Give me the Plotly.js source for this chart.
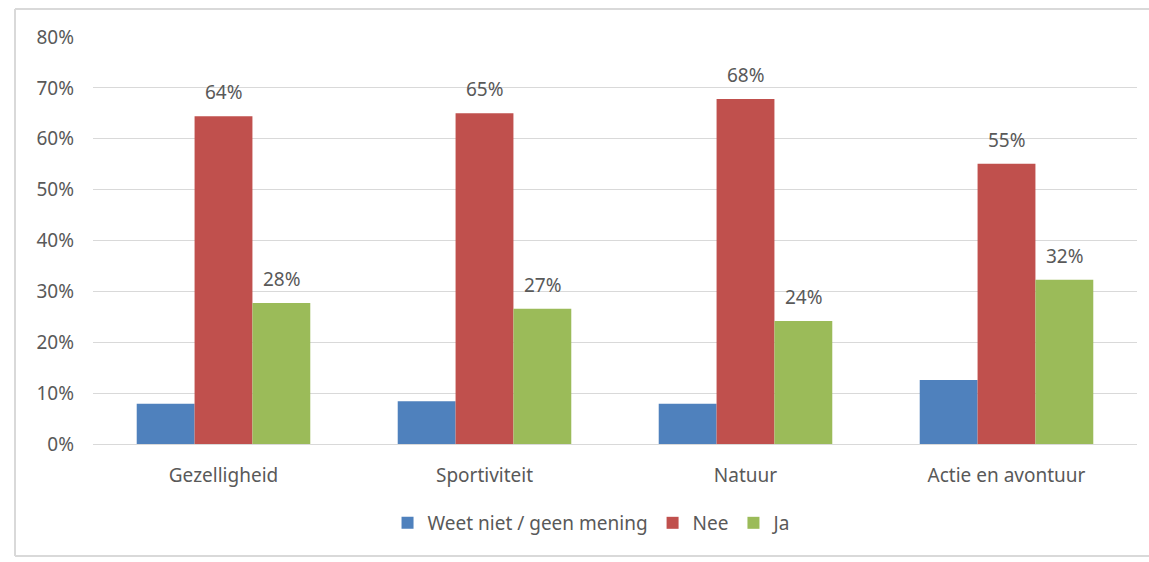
<!DOCTYPE html>
<html>
<head>
<meta charset="utf-8">
<script src="https://cdn.plot.ly/plotly-3.0.1.min.js"></script>
<style>html,body{margin:0;padding:0;background:#fff;overflow:hidden;}#chart{width:1149px;height:562px;}</style>
</head>
<body>
<div id="chart"></div>
<script>
const categories = ["Gezelligheid", "Sportiviteit", "Natuur", "Actie en avontuur"];
const seriesNames = ["Weet niet / geen mening", "Nee", "Ja"];
const weetNiet = [0.079, 0.084, 0.079, 0.126];
const nee = [0.644, 0.650, 0.678, 0.551];
const ja = [0.277, 0.266, 0.242, 0.323];
const yTickVals = [0, 0.1, 0.2, 0.3, 0.4, 0.5, 0.6, 0.7, 0.8];
const yTickText = ["0%", "10%", "20%", "30%", "40%", "50%", "60%", "70%", "80%"];

const colors = ["#4F81BD", "#C0504D", "#9BBB59"];
const FONT = "Noto Sans, sans-serif";
const GREY = "#595959";

const traces = [weetNiet, nee, ja].map((vals, i) => ({
  type: "bar",
  name: seriesNames[i],
  x: categories,
  y: vals,
  marker: {color: colors[i], line: {width: 0}},
  hoverinfo: "none"
}));

const annotations = [];
const labelled = [[nee, 0], [ja, 58]];
labelled.forEach(([vals, shift]) => {
  vals.forEach((v, j) => {
    annotations.push({
      x: categories[j], y: v, xref: "x", yref: "y",
      text: Math.round(v * 100) + "%",
      showarrow: false, xshift: shift, yshift: 24,
      font: {family: FONT, size: 19, color: GREY}
    });
  });
});

const borderLine = {color: "#d9d9d9", width: 2};
const bx0 = -0.0747, bx1 = 1.02, by0 = -0.275, by1 = 1.0688;

const layout = {
  width: 1149, height: 562,
  margin: {l: 93, r: 12, t: 37, b: 118},
  paper_bgcolor: "#ffffff", plot_bgcolor: "#ffffff",
  barmode: "group",
  bargap: 0.335, bargroupgap: 0,
  showlegend: true,
  legend: {
    orientation: "h", x: 0.478, xanchor: "center", y: -0.194, yanchor: "middle",
    font: {family: FONT, size: 19, color: GREY},
    itemwidth: 30, traceorder: "normal"
  },
  xaxis: {
    type: "category",
    showgrid: false, showline: false, zeroline: false,
    ticks: "", ticklabelstandoff: 18,
    tickfont: {family: FONT, size: 19, color: GREY},
    fixedrange: true
  },
  yaxis: {
    range: [0, 0.8],
    tickvals: yTickVals, ticktext: yTickText,
    showgrid: true, gridcolor: "#d9d9d9", gridwidth: 1,
    zeroline: true, zerolinecolor: "#d9d9d9", zerolinewidth: 1,
    showline: false, ticks: "", ticklabelstandoff: 18,
    tickfont: {family: FONT, size: 19, color: GREY},
    fixedrange: true
  },
  annotations: annotations,
  shapes: [
    {type: "line", xref: "paper", yref: "paper", x0: bx0, x1: bx1, y0: by1, y1: by1, line: borderLine, layer: "below"},
    {type: "line", xref: "paper", yref: "paper", x0: bx0, x1: bx1, y0: by0, y1: by0, line: borderLine, layer: "below"},
    {type: "line", xref: "paper", yref: "paper", x0: bx0, x1: bx0, y0: by0, y1: by1, line: borderLine, layer: "below"}
  ]
};

Plotly.newPlot("chart", traces, layout, {staticPlot: true, displayModeBar: false});
</script>
</body>
</html>
